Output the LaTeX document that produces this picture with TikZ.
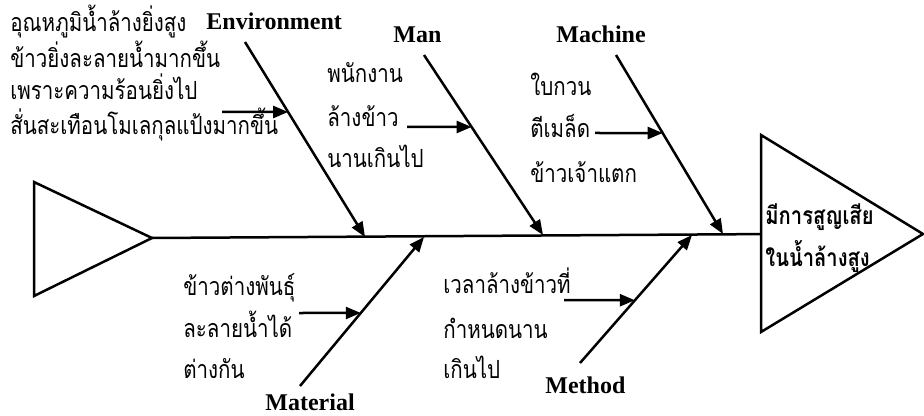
\documentclass[tikz,border=0pt]{standalone}
\usepackage{fontspec}
\setmainfont{Liberation Serif}
\newfontfamily\thaifont[Script=Thai,FakeStretch=0.82]{Loma}
\usetikzlibrary{arrows.meta,calc}
\begin{document}
\begin{tikzpicture}[x=0.5pt,y=-0.5pt,
  line/.style={line width=1.25pt},
  arr/.style={line width=1.25pt,-{Triangle[length=7.5pt,width=6pt]}},
  cat/.style={font=\bfseries\fontsize{12}{14}\selectfont,inner sep=0,anchor=base west},
  cause/.style={font=\thaifont\fontsize{12.5}{14}\selectfont,inner sep=0,anchor=base west},
  result/.style={font=\thaifont\bfseries\fontsize{12.3}{14}\selectfont,inner sep=0,anchor=base west},
]
\useasboundingbox (0,0) rectangle (924,416);
% head and tail
\coordinate (tA) at (34,182);
\coordinate (tB) at (34,296);
\coordinate (tC) at (152,238);
\draw[line] (tA) -- (tB) -- (tC) -- cycle;
\coordinate (hA) at (761,135);
\coordinate (hB) at (761,332);
\coordinate (hC) at (923,234);
\draw[line] (hA) -- (hB) -- (hC) -- cycle;
\draw[line] (tC) -- ($(hA)!0.503!(hB)$) coordinate (spineEnd);
% bones
\coordinate (envS) at (245,42);  \coordinate (envE) at (365,237);
\coordinate (manS) at (424,55);  \coordinate (manE) at (543,235);
\coordinate (macS) at (616,55);  \coordinate (macE) at (723,234);
\coordinate (matS) at (300,386); \coordinate (matE) at (424,237);
\coordinate (metS) at (580,363); \coordinate (metE) at (692,235);
\draw[arr] (envS) -- (envE);
\draw[arr] (manS) -- (manE);
\draw[arr] (macS) -- (macE);
\draw[arr] (matS) -- (matE);
\draw[arr] (metS) -- (metE);
% sub arrows
\coordinate (envA) at (222,112);
\coordinate (manA) at (407,127);
\coordinate (macA) at (595,133);
\coordinate (matA) at (299,313);
\coordinate (metA) at (564,300);
\draw[arr] (envA) -- ($(envS)!0.359!(envE)$);
\draw[arr] (manA) -- ($(manS)!0.4!(manE)$);
\draw[arr] (macA) -- ($(macS)!0.436!(macE)$);
\draw[arr] (matA) -- ($(matS)!0.49!(matE)$);
\draw[arr] (metA) -- ($(metS)!0.49!(metE)$);
% category labels
\node[cat] (lEnv) at (206,30) {Environment};
\node[cat] (lMan) at (393,43) {Man};
\node[cat] (lMac) at (556,43) {Machine};
\node[cat] (lMat) at (265,410) {Material};
\node[cat] (lMet) at (545,393) {Method};
% causes
\node[cause] (a1) at (10,32) {อุณหภูมิน้ำล้างยิ่งสูง};
\node[cause] (a2) at (10,68) {ข้าวยิ่งละลายน้ำมากขึ้น};
\node[cause] (a3) at (10,100) {เพราะความร้อนยิ่งไป};
\node[cause] (a4) at (10,135) {สั่นสะเทือนโมเลกุลแป้งมากขึ้น};
\node[cause] (b1) at (327,83) {พนักงาน};
\node[cause] (b2) at (327,127) {ล้างข้าว};
\node[cause] (b3) at (327,168) {นานเกินไป};
\node[cause] (c1) at (530,96) {ใบกวน};
\node[cause] (c2) at (530,138) {ตีเมล็ด};
\node[cause] (c3) at (530,183) {ข้าวเจ้าแตก};
\node[cause] (d1) at (183,295) {ข้าวต่างพันธุ์};
\node[cause] (d2) at (183,337) {ละลายน้ำได้};
\node[cause] (d3) at (183,378) {ต่างกัน};
\node[cause] (e1) at (443,293) {เวลาล้างข้าวที่};
\node[cause] (e2) at (443,338) {กำหนดนาน};
\node[cause] (e3) at (443,378) {เกินไป};
\node[result] (f1) at (765,225) {มีการสูญเสีย};
\node[result] (f2) at (765,267) {ในน้ำล้างสูง};
\end{tikzpicture}
\end{document}
